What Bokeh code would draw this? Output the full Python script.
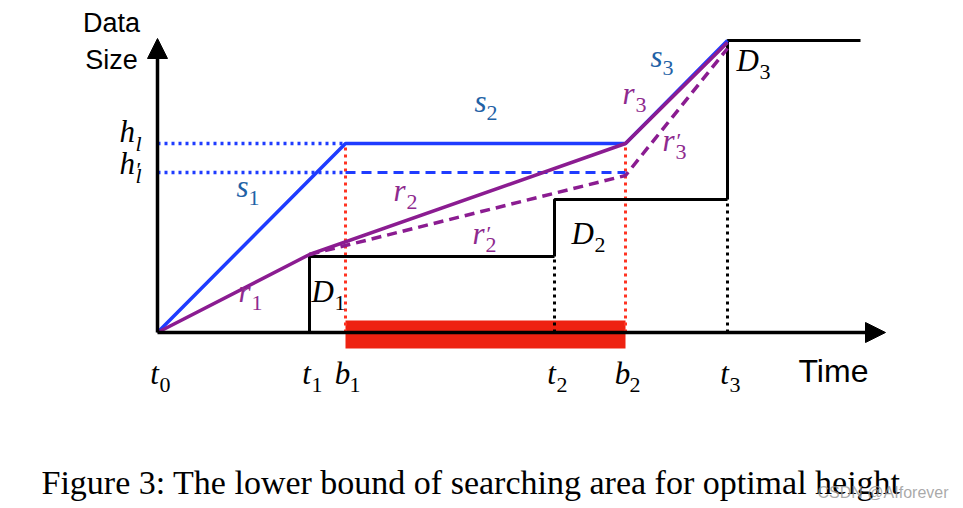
from bokeh.plotting import figure
from bokeh.models import Range1d, Arrow, NormalHead
from bokeh.core.properties import value
from bokeh.embed import file_html
from bokeh.resources import INLINE

# ---------------- data (diagram units: time along x, data size along y) ----------------
time_letters = ["t", "t", "b", "t", "b", "t"]
time_subs = ["0", "1", "1", "2", "2", "3"]
time_vals = [0, 152, 188, 397, 468, 570]          # t0, t1, b1, t2, b2, t3
T0, T1, B1, T2, B2, T3 = time_vals
time_axis_end = 728
D_levels = [76, 133, 292]                          # D1, D2, D3 heights
D_end = 703
h_l = 189
h_l_prime = 160
axis_top = 294

s_x = [T0, B1, B2, T3]
s_y = [0, h_l, h_l, 292]
r_x = [T0, T1, B2, T3]
r_y = [0, 78, h_l, 290]
rp_x = [T1, B2, T3]
rp_y = [78, 157, 284]

# annotation labels: (main, subscript, prime, left px, baseline px, color)
labels = [
    ("s", "1", False, 236, 198, "#1f62a6"),
    ("s", "2", False, 474, 113, "#1f62a6"),
    ("s", "3", False, 650, 68, "#1f62a6"),
    ("r", "1", False, 238, 303, "#8e2a8e"),
    ("r", "2", False, 393, 202, "#8e2a8e"),
    ("r", "2", True, 472, 245, "#8e2a8e"),
    ("r", "3", False, 622, 105, "#8e2a8e"),
    ("r", "3", True, 662, 152, "#8e2a8e"),
    ("D", "1", False, 311, 303, "#000000"),
    ("D", "2", False, 571, 245, "#000000"),
    ("D", "3", False, 736, 72, "#000000"),
    ("h", "l", False, 119, 143, "#000000"),
    ("h", "l", True, 119, 175, "#000000"),
]

OX, OY = 157, 332  # pixel position of the origin
W, H = 963, 508
SHIFT = 0.38       # baseline compensation (fraction of font size)

def dx(px):
    return px - OX

def dy(py, size=0):
    return OY - (py - SHIFT * size)

BLUE = "#1f3cff"
PURPLE = "#8b1c91"
RED = "#ee2211"

p = figure(width=W, height=H, output_backend="svg", toolbar_location=None,
           x_range=Range1d(-OX, W - OX), y_range=Range1d(OY - H, OY),
           min_border=0)
p.axis.visible = False
p.grid.visible = False
p.outline_line_color = None
p.background_fill_color = "white"
p.border_fill_color = "white"

# red search-area bar
p.quad(left=[B1], right=[B2], bottom=[-16], top=[12], fill_color=RED, line_color=None)

# red dotted verticals at b1, b2
p.multi_line(xs=[[B1, B1], [B2, B2]], ys=[[0, h_l], [0, h_l]],
             line_color="#ff3322", line_width=3, line_dash="3 4")

# blue dotted / dashed horizontals
p.line([T0, B1], [h_l, h_l], line_color=BLUE, line_width=3.5, line_dash="3 4")
p.line([T0, B1], [h_l_prime, h_l_prime], line_color=BLUE, line_width=3.5, line_dash="3 4")
p.line([B1, B2], [h_l_prime, h_l_prime], line_color=BLUE, line_width=3, line_dash="10 6")

# black step function
p.line([T1, T1, T2], [0, D_levels[0], D_levels[0]], line_color="black", line_width=3)
p.line([T2, T2, T3], [D_levels[0], D_levels[1], D_levels[1]], line_color="black", line_width=3)
p.line([T3, T3, D_end], [D_levels[1], D_levels[2], D_levels[2]], line_color="black", line_width=3)
p.multi_line(xs=[[T2, T2], [T3, T3]], ys=[[0, D_levels[0]], [0, D_levels[1]]],
             line_color="black", line_width=3, line_dash="3 4")

# s (blue) and r (purple) curves
p.line(s_x, s_y, line_color=BLUE, line_width=3.5)
p.line(r_x, r_y, line_color=PURPLE, line_width=3.5)
p.line(rp_x, rp_y, line_color=PURPLE, line_width=3.5, line_dash="10 6")

# axes with arrow heads
p.add_layout(Arrow(end=NormalHead(size=20, fill_color="black", line_color="black"),
                   x_start=T0, y_start=0, x_end=time_axis_end, y_end=0,
                   line_color="black", line_width=3.5))
p.add_layout(Arrow(end=NormalHead(size=20, fill_color="black", line_color="black"),
                   x_start=T0, y_start=0, x_end=T0, y_end=axis_top,
                   line_color="black", line_width=3.5))

SERIF = value("Liberation Serif")
SANS = value("Liberation Sans")
MAIN = 31
SUB = 22

# time tick labels
half_w = {"t": 5, "b": 7}
p.text(x=[t - 3 for t in time_vals], y=[dy(385, MAIN)] * len(time_vals), text=time_letters,
       text_font=SERIF, text_font_style="italic", text_font_size=f"{MAIN}px",
       text_align="center", text_baseline="alphabetic", text_color="black")
p.text(x=[t - 3 + half_w[c] for t, c in zip(time_vals, time_letters)],
       y=[dy(393, SUB)] * len(time_vals), text=time_subs,
       text_font=SERIF, text_font_size=f"{SUB}px",
       text_align="left", text_baseline="alphabetic", text_color="black")

# annotation labels
for main, sub, prime, lx, by, col in labels:
    main_w = {"s": 12, "r": 13, "D": 23, "h": 16}[main]
    p.text(x=[dx(lx)], y=[dy(by, MAIN)], text=[main], text_font=SERIF, text_font_style="italic",
           text_font_size=f"{MAIN}px", text_align="left", text_baseline="alphabetic", text_color=col)
    sub_style = "italic" if sub == "l" else "normal"
    p.text(x=[dx(lx + main_w)], y=[dy(by + 8, SUB)], text=[sub], text_font=SERIF,
           text_font_style=sub_style, text_font_size=f"{SUB}px", text_align="left",
           text_baseline="alphabetic", text_color=col)
    if prime:
        pb = by + 2 if main == "h" else by - 4
        p.text(x=[dx(lx + main_w + 1)], y=[dy(pb, SUB)], text=["\u2032"], text_font=SERIF,
               text_font_size=f"{SUB}px", text_align="left",
               text_baseline="alphabetic", text_color=col)

# axis titles
p.text(x=[dx(111), dx(111)], y=[dy(33, 27), dy(70, 27)], text=["Data", "Size"], text_font=SANS,
       text_font_size="27px", text_align="center", text_baseline="alphabetic", text_color="black")
p.text(x=[dx(798)], y=[dy(383, 32)], text=["Time"], text_font=SANS, text_font_size="32px",
       text_align="left", text_baseline="alphabetic", text_color="black")

# caption and watermark
p.text(x=[dx(41)], y=[dy(495, 34)], text=["Figure 3: The lower bound of searching area for optimal height"],
       text_font=SERIF, text_font_size="34px", text_align="left", text_baseline="alphabetic",
       text_color="black")
p.text(x=[dx(948)], y=[dy(498, 16)], text=["CSDN @AIforever"], text_font=SANS, text_font_size="16px",
       text_align="right", text_baseline="alphabetic", text_color="#9a9a9a", text_alpha=0.85)

open("out.html", "w").write(file_html(p, INLINE))
